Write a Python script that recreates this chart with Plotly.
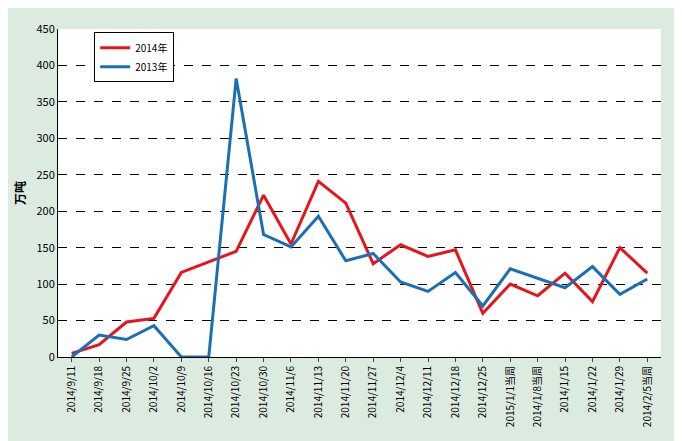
import plotly.graph_objects as go

weeks = ["2014/9/11", "2014/9/18", "2014/9/25", "2014/10/2", "2014/10/9", "2014/10/16",
         "2014/10/23", "2014/10/30", "2014/11/6", "2014/11/13", "2014/11/20", "2014/11/27",
         "2014/12/4", "2014/12/11", "2014/12/18", "2014/12/25", "2015/1/1当周", "2014/1/8当周",
         "2014/1/15", "2014/1/22", "2014/1/29", "2014/2/5当周"]
y2014 = [5, 17, 48, 53, 116, 131, 145, 222, 155, 241, 211, 128,
         154, 138, 147, 60, 100, 84, 115, 76, 150, 115]
y2013 = [0, 30, 24, 43, 0, 0, 382, 168, 151, 193, 132, 142,
         103, 90, 116, 70, 121, 108, 95, 124, 86, 107]

font = "SimSun, Noto Sans CJK SC, sans-serif"

fig = go.Figure()
fig.add_trace(go.Scatter(x=weeks, y=y2014, name="2014年", mode="lines",
                         line=dict(color="#e8141b", width=3)))
fig.add_trace(go.Scatter(x=weeks, y=y2013, name="2013年", mode="lines",
                         line=dict(color="#1a6fb5", width=3)))

fig.update_layout(
    width=682, height=441,
    margin=dict(l=48, r=29, t=14, b=92),
    paper_bgcolor="#dcebe0",
    plot_bgcolor="white",
    font=dict(family=font, size=11, color="black"),
    legend=dict(x=0.06, y=0.99, xanchor="left", yanchor="top",
                bgcolor="white", bordercolor="black", borderwidth=1,
                font=dict(size=10), tracegroupgap=2),
    showlegend=True,
)
fig.update_xaxes(type="category", range=[-0.5, len(weeks) - 0.5], automargin=False,
                 tickangle=-90, showline=True, linecolor="black",
                 ticks="outside", ticklen=4, tickfont=dict(size=10), showgrid=False)
fig.update_yaxes(range=[0, 450], dtick=50, showline=True, linecolor="black",
                 gridcolor="black", griddash="dash", gridwidth=1, zeroline=False,
                 title=dict(text="<b>万吨</b>", standoff=8, font=dict(size=12)))

fig.write_html("out.html")
